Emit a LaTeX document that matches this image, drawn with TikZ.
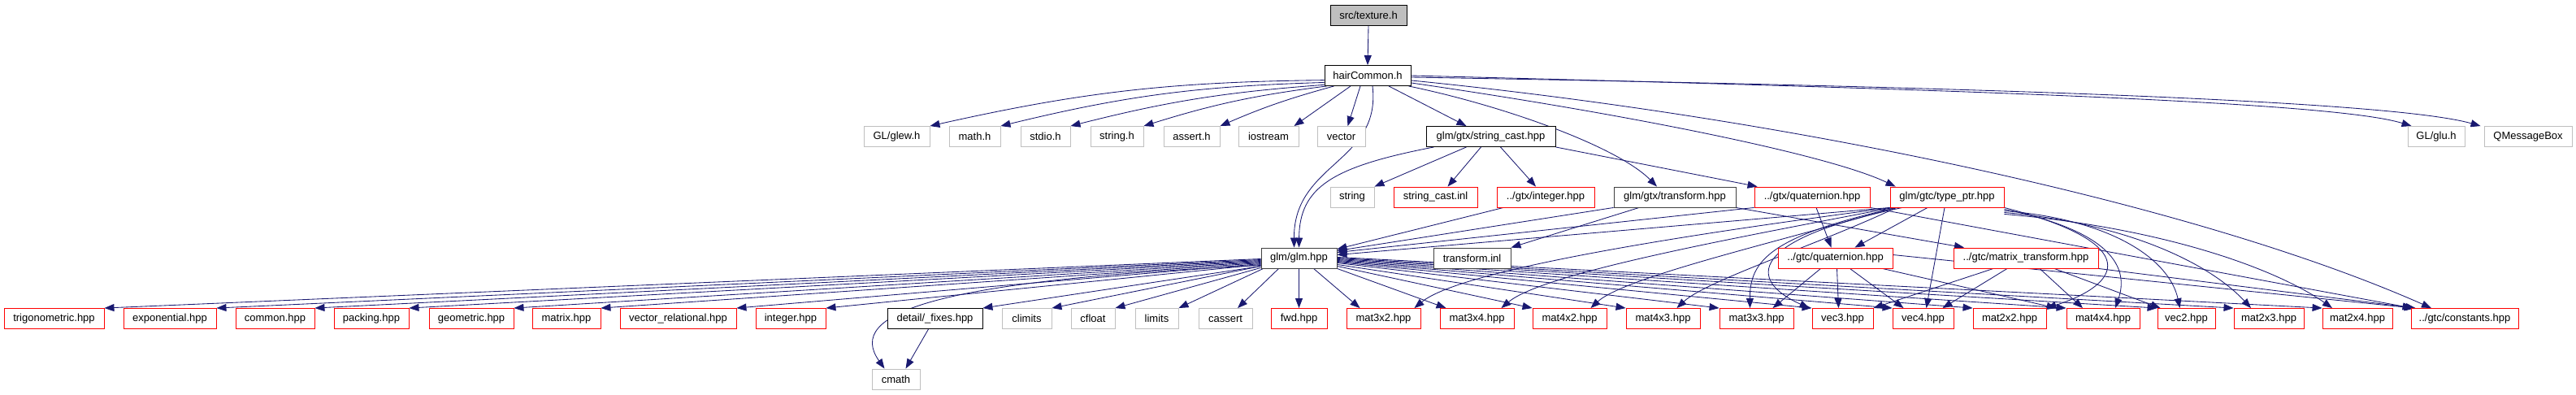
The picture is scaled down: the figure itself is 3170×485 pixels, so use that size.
\documentclass[tikz,border=0pt]{standalone}
\usepackage{fontspec}
\setmainfont{Liberation Sans}
\usepackage{xcolor}
\usetikzlibrary{positioning,arrows.meta}
\definecolor{edgeblue}{HTML}{191970}
\definecolor{nodegray}{HTML}{BFBFBF}
\pgfdeclarelayer{edgelayer}
\pgfsetlayers{edgelayer,main}
\begin{document}
\begin{tikzpicture}[x=1pt,y=-1pt,
  fbox/.style={draw,line width=0.9pt,fill=white,minimum height=25pt,inner sep=0pt,font=\fontsize{13}{15}\selectfont},
  rootbox/.style={fbox,draw=black,fill=nodegray},
  docbox/.style={fbox,draw=black},
  dimbox/.style={fbox,draw=black!75},
  sysbox/.style={fbox,draw=nodegray},
  cutbox/.style={fbox,draw=red},
  incl/.style={draw=edgeblue,line width=0.85pt,-{Triangle[length=12pt,width=9pt]}}]
\useasboundingbox (0,0) rectangle (3170,485);
\node[rootbox,minimum width=94pt] (texture) at (1684,18.5) {src/texture.h};
\node[docbox,minimum width=106pt] (hair) at (1683,93) {hairCommon.h};
\node[sysbox,minimum width=81pt] (glew) at (1103.5,168) {GL/glew.h};
\node[sysbox,minimum width=63pt] (math) at (1199.5,168) {math.h};
\node[sysbox,minimum width=61pt] (stdio) at (1286.5,168) {stdio.h};
\node[sysbox,minimum width=65pt] (strh) at (1374.5,168) {string.h};
\node[sysbox,minimum width=69pt] (assrt) at (1466.5,168) {assert.h};
\node[sysbox,minimum width=74pt] (iostr) at (1561,168) {iostream};
\node[sysbox,minimum width=59pt] (vect) at (1650.5,168) {vector};
\node[docbox,minimum width=159pt] (strcast) at (1834.5,168) {glm/gtx/string\_cast.hpp};
\node[sysbox,minimum width=70pt] (glu) at (2998,168) {GL/glu.h};
\node[sysbox,minimum width=108pt] (qmsg) at (3111,168) {QMessageBox};
\node[sysbox,minimum width=54pt] (strg) at (1664,242.5) {string};
\node[cutbox,minimum width=103pt] (strinl) at (1766.5,242.5) {string\_cast.inl};
\node[cutbox,minimum width=120pt] (gtxint) at (1902,242.5) {../gtx/integer.hpp};
\node[dimbox,minimum width=150pt] (gtxtrans) at (2061,242.5) {glm/gtx/transform.hpp};
\node[cutbox,minimum width=142pt] (gtxquat) at (2230,242.5) {../gtx/quaternion.hpp};
\node[cutbox,minimum width=140pt] (typeptr) at (2396,242.5) {glm/gtc/type\_ptr.hpp};
\node[dimbox,minimum width=93pt] (glm) at (1598.5,317.5) {glm/glm.hpp};
\node[dimbox,minimum width=95pt] (trinl) at (1811.5,317.5) {transform.inl};
\node[cutbox,minimum width=141pt] (gtcquat) at (2258.5,317.5) {../gtc/quaternion.hpp};
\node[cutbox,minimum width=178pt] (mattr) at (2493,317.5) {../gtc/matrix\_transform.hpp};
\node[cutbox,minimum width=123pt] (trig) at (66.5,392) {trigonometric.hpp};
\node[cutbox,minimum width=114pt] (expo) at (209,392) {exponential.hpp};
\node[cutbox,minimum width=97pt] (commn) at (338.5,392) {common.hpp};
\node[cutbox,minimum width=92pt] (pack) at (457,392) {packing.hpp};
\node[cutbox,minimum width=104pt] (geom) at (580,392) {geometric.hpp};
\node[cutbox,minimum width=84pt] (matx) at (697,392) {matrix.hpp};
\node[cutbox,minimum width=143pt] (vrel) at (834.5,392) {vector\_relational.hpp};
\node[cutbox,minimum width=86pt] (intg) at (973,392) {integer.hpp};
\node[docbox,minimum width=117pt] (fixes) at (1150.5,392) {detail/\_fixes.hpp};
\node[sysbox,minimum width=61pt] (clim) at (1263.5,392) {climits};
\node[sysbox,minimum width=54pt] (cflt) at (1345,392) {cfloat};
\node[sysbox,minimum width=53pt] (lims) at (1423.5,392) {limits};
\node[sysbox,minimum width=66pt] (cass) at (1508,392) {cassert};
\node[cutbox,minimum width=69pt] (fwd) at (1598.5,392) {fwd.hpp};
\node[cutbox,minimum width=91pt] (mat3x2) at (1702.5,392) {mat3x2.hpp};
\node[cutbox,minimum width=91pt] (mat3x4) at (1817.5,392) {mat3x4.hpp};
\node[cutbox,minimum width=91pt] (mat4x2) at (1931.5,392) {mat4x2.hpp};
\node[cutbox,minimum width=91pt] (mat4x3) at (2046.5,392) {mat4x3.hpp};
\node[cutbox,minimum width=91pt] (mat3x3) at (2161.5,392) {mat3x3.hpp};
\node[cutbox,minimum width=75pt] (vthree) at (2267.5,392) {vec3.hpp};
\node[cutbox,minimum width=75pt] (vfour) at (2366.5,392) {vec4.hpp};
\node[cutbox,minimum width=90pt] (mat2x2) at (2473,392) {mat2x2.hpp};
\node[cutbox,minimum width=90pt] (mat4x4) at (2588,392) {mat4x4.hpp};
\node[cutbox,minimum width=71pt] (vtwo) at (2690.5,392) {vec2.hpp};
\node[cutbox,minimum width=86pt] (mat2x3) at (2792,392) {mat2x3.hpp};
\node[cutbox,minimum width=86pt] (mat2x4) at (2901,392) {mat2x4.hpp};
\node[cutbox,minimum width=132pt] (consts) at (3033,392) {../gtc/constants.hpp};
\node[sysbox,minimum width=59pt] (cmath) at (1102.5,466.5) {cmath};

\begin{pgfonlayer}{edgelayer}
\draw[incl] (texture.south) -- (hair.north);
\draw[incl] (hair.186) to[bend right=6] (glew.north east);
\draw[incl] (hair.189) to[bend right=6] (math.north east);
\draw[incl] (hair.192) to[bend right=5] (stdio.north east);
\draw[incl] ([xshift=3pt]hair.south west) to[bend right=5] (strh.north east);
\draw[incl] ([xshift=12pt]hair.south west) to[bend right=4] (assrt.north east);
\draw[incl] ([xshift=-21pt]hair.south) -- ([xshift=-6pt]iostr.north east);
\draw[incl] ([xshift=-9pt]hair.south) -- ([xshift=8pt]vect.north);
\draw[incl] ([xshift=26pt]hair.south) -- ([xshift=-30pt]strcast.north);
\draw[incl] ([xshift=6pt]hair.south) .. controls (1700,200) and (1592,200) .. ([xshift=-6pt]glm.north);
\draw[incl] ([xshift=-3pt]hair.south east) .. controls (1850,130) and (1990,180) .. ([xshift=-22pt]gtxtrans.north);
\draw[incl] ([yshift=4pt]hair.south east) .. controls (2000,140) and (2250,190) .. ([xshift=7pt]typeptr.north west);
\draw[incl] ([yshift=7pt]hair.south east) .. controls (2200,145) and (2700,250) .. ([xshift=-41pt]consts.north);
\draw[incl] (hair.east) .. controls (2500,112) and (2880,128) .. ([xshift=5pt]glu.north west);
\draw[incl] ([yshift=-2pt]hair.east) .. controls (2500,108) and (2950,126) .. ([xshift=-4pt]qmsg.north west);

\draw[incl] ([xshift=-30pt]strcast.south) -- (strg.north east);
\draw[incl] ([xshift=-12pt]strcast.south) -- ([xshift=15pt]strinl.north);
\draw[incl] ([xshift=12pt]strcast.south) -- ([xshift=-12pt]gtxint.north);
\draw[incl] (strcast.south east) -- ([xshift=4pt]gtxquat.north west);
\draw[incl] ([xshift=-70pt]strcast.south) .. controls (1640,205) and (1599,230) .. (glm.north);

\draw[incl] ([xshift=-52pt]gtxint.south) -- ([yshift=-2pt]glm.north east);
\draw[incl] (gtxtrans.south west) -- ([yshift=-4pt]glm.north east);
\draw[incl] ([xshift=-44pt]gtxtrans.south) -- (trinl.north east);
\draw[incl] (gtxtrans.south east) -- ([xshift=-76pt]mattr.north);
\draw[incl] (gtxquat.south west) -- ([yshift=-6pt]glm.north east);
\draw[incl] ([xshift=5pt]gtxquat.south) -- ([xshift=-5pt]gtcquat.north);
\draw[incl] (gtxquat.south east) -- ([xshift=2pt]consts.north west);

\draw[incl] (typeptr.south west) -- ([yshift=-9pt]glm.north east);
\draw[incl] ([xshift=-24pt]typeptr.south) -- ([xshift=24pt]gtcquat.north);
\draw[incl] ([xshift=-3pt]typeptr.south) -- ([xshift=4pt]vfour.north);
\draw[incl] ([xshift=-62pt]typeptr.south) .. controls (2180,290) and (2153,320) .. ([xshift=-8pt]mat3x3.north);
\draw[incl] ([xshift=-55pt]typeptr.south) .. controls (2150,295) and (2150,345) .. ([xshift=-3pt]vthree.north west);
\draw[incl] ([xshift=2pt]typeptr.south west) .. controls (2100,285) and (1800,330) .. ([xshift=-8pt]mat3x2.north east);
\draw[incl] ([xshift=4pt]typeptr.south west) .. controls (2150,290) and (1900,335) .. ([xshift=-16pt]mat3x4.north east);
\draw[incl] ([xshift=6pt]typeptr.south west) .. controls (2200,295) and (2000,340) .. ([xshift=-20pt]mat4x2.north east);
\draw[incl] ([xshift=8pt]typeptr.south west) .. controls (2240,300) and (2100,345) .. ([xshift=-29pt]mat4x3.north east);
\draw[incl] (typeptr.south east) .. controls (2640,300) and (2610,350) .. (mat2x2.north east);
\draw[incl] ([yshift=-2pt]typeptr.south east) .. controls (2600,285) and (2620,330) .. ([xshift=15pt]mat4x4.north);
\draw[incl] ([yshift=-4pt]typeptr.south east) .. controls (2600,270) and (2670,320) .. ([xshift=-8pt]vtwo.north);
\draw[incl] ([yshift=-6pt]typeptr.south east) .. controls (2620,275) and (2720,325) .. ([xshift=-22pt]mat2x3.north);
\draw[incl] ([yshift=-8pt]typeptr.south east) .. controls (2660,280) and (2800,330) .. ([xshift=-31pt]mat2x4.north);

\draw[incl] ([xshift=-18pt]gtcquat.south) -- ([xshift=20pt]mat3x3.north);
\draw[incl] ([xshift=2pt]gtcquat.south) -- ([xshift=-5pt]vthree.north);
\draw[incl] ([xshift=18pt]gtcquat.south) -- ([xshift=-24pt]vfour.north);
\draw[incl] ([xshift=58pt]gtcquat.south) -- ([xshift=-12pt]mat4x4.north west);
\draw[incl] ([yshift=4pt]gtcquat.east) -- ([xshift=4pt]consts.north west);

\draw[incl] ([xshift=-40pt]mattr.south) -- (vthree.north east);
\draw[incl] ([xshift=-23pt]mattr.south) -- ([xshift=24pt]vfour.north);
\draw[incl] ([xshift=17pt]mattr.south) -- ([xshift=-25pt]mat4x4.north);
\draw[incl] ([xshift=35pt]mattr.south) -- ([xshift=4pt]vtwo.north west);
\draw[incl] (mattr.south east) -- ([xshift=6pt]consts.north west);

\draw[incl] ([yshift=-1pt]glm.west) -- (trig.north east);
\draw[incl] ([yshift=-2pt]glm.west) -- (expo.north east);
\draw[incl] ([yshift=-3pt]glm.west) -- (commn.north east);
\draw[incl] ([yshift=-4pt]glm.west) -- (pack.north east);
\draw[incl] ([yshift=-5pt]glm.west) -- (geom.north east);
\draw[incl] ([yshift=-6pt]glm.west) -- (matx.north east);
\draw[incl] ([yshift=-7pt]glm.west) -- (vrel.north east);
\draw[incl] ([yshift=-8pt]glm.west) -- (intg.north east);
\draw[incl] ([yshift=-10pt]glm.west) -- (fixes.north east);
\draw[incl] ([yshift=3pt]glm.south west) -- (clim.north east);
\draw[incl] ([yshift=1pt]glm.south west) -- (cflt.north east);
\draw[incl] ([xshift=3pt]glm.south west) -- (lims.north east);
\draw[incl] ([xshift=22pt]glm.south west) -- ([xshift=15pt]cass.north);
\draw[incl] (glm.south) -- (fwd.north);
\draw[incl] ([yshift=-9pt]glm.west) .. controls (1150,345) and (1040,385) .. ([xshift=-14pt]cmath.north);
\draw[incl] ([xshift=-8pt]fixes.south) -- ([xshift=12pt]cmath.north);
\draw[incl] ([xshift=18pt]glm.south) -- ([xshift=-29pt]mat3x2.north);
\draw[incl] (glm.south east) -- ([xshift=-38pt]mat3x4.north);
\draw[incl] ([yshift=3pt]glm.south east) -- (mat4x2.north west);
\draw[incl] ([yshift=5pt]glm.south east) -- (mat4x3.north west);
\draw[incl] ([yshift=7pt]glm.south east) -- (mat3x3.north west);
\draw[incl] ([yshift=8pt]glm.south east) -- (vthree.north west);
\draw[incl] ([yshift=9pt]glm.south east) -- (vfour.north west);
\draw[incl] ([yshift=10pt]glm.south east) -- (mat2x2.north west);
\draw[incl] ([yshift=11pt]glm.south east) -- (mat4x4.north west);
\draw[incl] ([yshift=12pt]glm.south east) -- (vtwo.north west);
\draw[incl] ([yshift=13pt]glm.south east) -- (mat2x3.north west);
\draw[incl] ([yshift=14pt]glm.south east) -- (mat2x4.north west);
\end{pgfonlayer}
\end{tikzpicture}
\end{document}
